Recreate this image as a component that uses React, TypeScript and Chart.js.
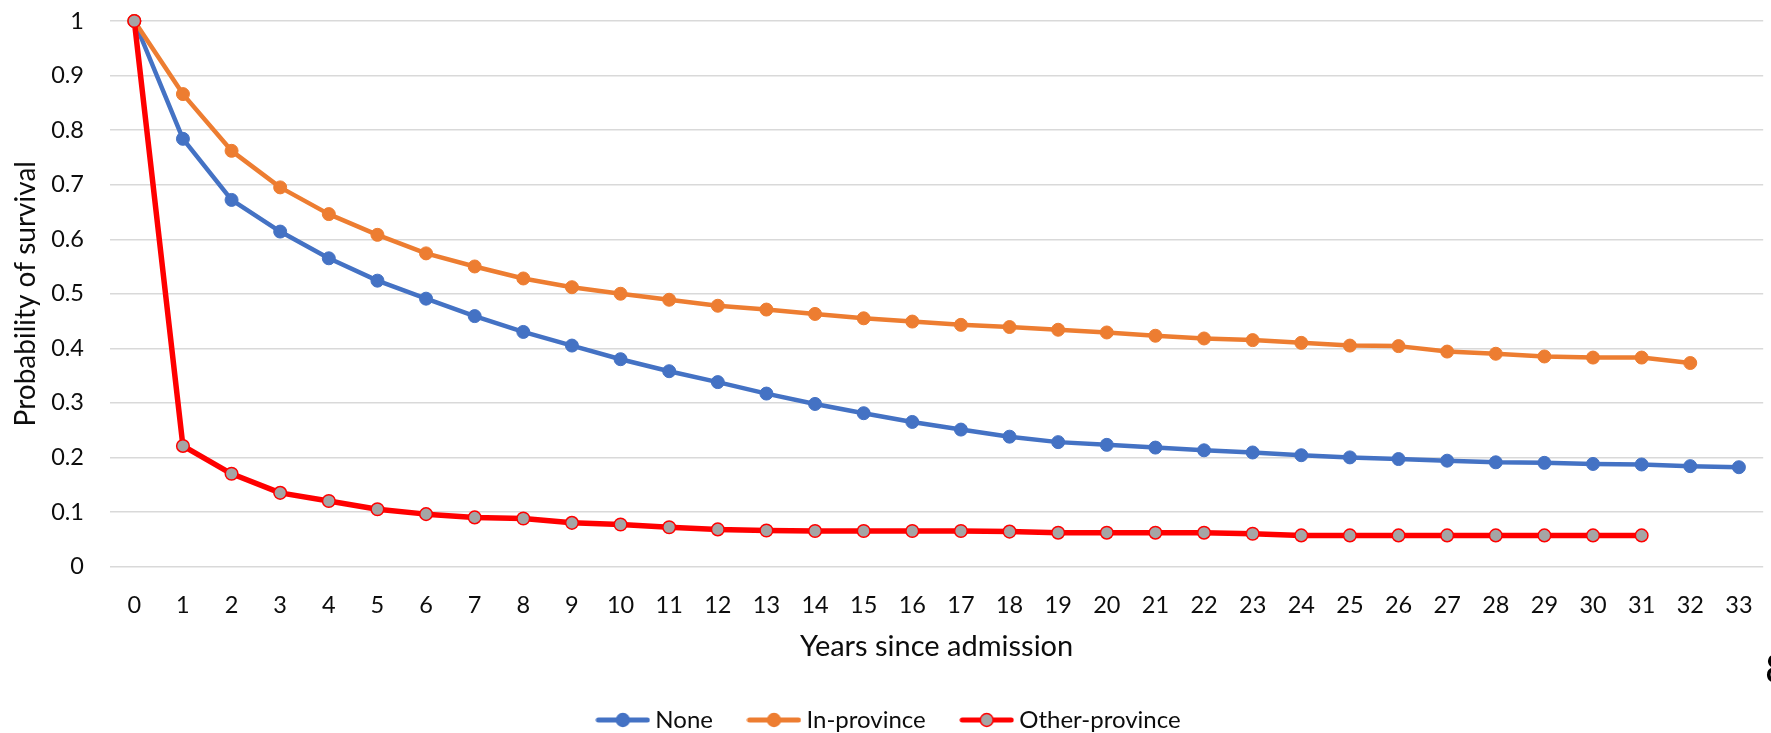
import { useEffect, useRef } from "react";
import { Chart, registerables } from "chart.js";

Chart.register(...registerables);

// Years since admission (category axis)
const years = [
  "0", "1", "2", "3", "4", "5", "6", "7", "8", "9", "10", "11", "12", "13", "14", "15", "16",
  "17", "18", "19", "20", "21", "22", "23", "24", "25", "26", "27", "28", "29", "30", "31", "32", "33",
];

// Probability of survival by transfer group
const noneSurvival = [
  1.0, 0.784, 0.672, 0.614, 0.565, 0.524, 0.491, 0.459, 0.43, 0.405, 0.38, 0.358, 0.338, 0.317,
  0.298, 0.281, 0.265, 0.251, 0.238, 0.228, 0.223, 0.218, 0.213, 0.209, 0.204, 0.2, 0.197, 0.194,
  0.191, 0.19, 0.188, 0.187, 0.184, 0.182,
];
const inProvinceSurvival = [
  1.0, 0.866, 0.762, 0.695, 0.646, 0.608, 0.574, 0.55, 0.528, 0.512, 0.5, 0.489, 0.478, 0.471,
  0.463, 0.455, 0.449, 0.443, 0.439, 0.434, 0.429, 0.423, 0.418, 0.415, 0.41, 0.405, 0.404, 0.394,
  0.39, 0.385, 0.383, 0.383, 0.373,
];
const otherProvinceSurvival = [
  1.0, 0.221, 0.17, 0.135, 0.12, 0.105, 0.096, 0.09, 0.088, 0.08, 0.077, 0.072, 0.068, 0.066,
  0.065, 0.065, 0.065, 0.065, 0.064, 0.062, 0.062, 0.062, 0.062, 0.06, 0.057, 0.057, 0.057, 0.057,
  0.057, 0.057, 0.057, 0.057,
];

const yTickValues = [0, 0.1, 0.2, 0.3, 0.4, 0.5, 0.6, 0.7, 0.8, 0.9, 1];
const seriesNames = ["None", "In-province", "Other-province"];

const FONT = "Lato, 'Noto Sans', sans-serif";
const TEXT = "#0d0d0d";
const GRID = "#d9d9d9";
const BLUE = "#4472c4";
const ORANGE = "#ed7d31";
const RED = "#ff0000";
const GRAY = "#a5a5a5";

// Line-with-marker swatch used for the legend entries
function legendMarker(lineColor: string, fill: string, stroke: string, lineWidth: number) {
  const c = document.createElement("canvas");
  c.width = 55;
  c.height = 16;
  const ctx = c.getContext("2d")!;
  ctx.strokeStyle = lineColor;
  ctx.lineWidth = lineWidth;
  ctx.lineCap = "round";
  ctx.beginPath();
  ctx.moveTo(3, 8);
  ctx.lineTo(52, 8);
  ctx.stroke();
  ctx.beginPath();
  ctx.arc(27.5, 8, 6.4, 0, Math.PI * 2);
  ctx.fillStyle = fill;
  ctx.fill();
  ctx.lineWidth = 1.5;
  ctx.strokeStyle = stroke;
  ctx.stroke();
  return c;
}

export default function App() {
  const canvasRef = useRef<HTMLCanvasElement | null>(null);

  useEffect(() => {
    if (!canvasRef.current) return;
    const markers = [
      legendMarker(BLUE, BLUE, BLUE, 5),
      legendMarker(ORANGE, ORANGE, ORANGE, 5),
      legendMarker(RED, GRAY, RED, 5),
    ];

    const chart = new Chart(canvasRef.current, {
      type: "line",
      data: {
        labels: years,
        datasets: [
          {
            label: seriesNames[0],
            data: noneSurvival,
            borderColor: BLUE,
            backgroundColor: BLUE,
            borderWidth: 4.5,
            pointRadius: 6.5,
            pointBackgroundColor: BLUE,
            pointBorderColor: BLUE,
            pointBorderWidth: 1,
            borderJoinStyle: "round",
            borderCapStyle: "round",
            order: 3,
            clip: false,
          },
          {
            label: seriesNames[1],
            data: inProvinceSurvival,
            borderColor: ORANGE,
            backgroundColor: ORANGE,
            borderWidth: 4.5,
            pointRadius: 6.5,
            pointBackgroundColor: ORANGE,
            pointBorderColor: ORANGE,
            pointBorderWidth: 1,
            borderJoinStyle: "round",
            borderCapStyle: "round",
            order: 2,
            clip: false,
          },
          {
            label: seriesNames[2],
            data: otherProvinceSurvival,
            borderColor: RED,
            backgroundColor: GRAY,
            borderWidth: 5.5,
            pointRadius: 6.3,
            pointBackgroundColor: GRAY,
            pointBorderColor: RED,
            pointBorderWidth: 1.5,
            borderJoinStyle: "round",
            borderCapStyle: "round",
            order: 1,
            clip: false,
          },
        ],
      },
      options: {
        animation: false,
        responsive: true,
        maintainAspectRatio: false,
        layout: { padding: { top: 21, right: 2, left: 14, bottom: 0 } },
        plugins: {
          tooltip: { enabled: false },
          legend: {
            position: "bottom",
            maxHeight: 65.5,
            labels: {
              usePointStyle: true,
              pointStyleWidth: 41,
              padding: 40.5,
              color: TEXT,
              font: { family: FONT, size: 24 },
              generateLabels: (c: any) =>
                c.data.datasets.map((ds: any, i: number) => ({
                  text: ds.label,
                  datasetIndex: i,
                  hidden: false,
                  pointStyle: markers[i],
                  fillStyle: ds.backgroundColor,
                  strokeStyle: ds.borderColor,
                  lineWidth: 0,
                  fontColor: TEXT,
                })),
            },
          },
        },
        scales: {
          x: {
            offset: true,
            grid: { display: false },
            border: { display: false },
            ticks: {
              padding: 17,
              color: TEXT,
              maxRotation: 0,
              autoSkip: false,
              font: { family: FONT, size: 23.5 },
            },
            title: {
              display: true,
              text: "Years since admission",
              color: TEXT,
              padding: { top: 0, bottom: 4.5 },
              font: { family: FONT, size: 29, lineHeight: 1.1 },
            },
            afterFit: (s: any) => {
              s.height = 101;
              s.paddingLeft = 0;
              s.paddingRight = 0;
            },
          },
          y: {
            min: 0,
            max: 1,
            grid: { color: GRID, lineWidth: 1.4, drawTicks: false },
            border: { display: false },
            afterBuildTicks: (s: any) => {
              s.ticks = yTickValues.map((v) => ({ value: v }));
            },
            ticks: {
              padding: 26,
              color: TEXT,
              font: { family: FONT, size: 23.5 },
              callback: (v: any) => String(Number(Number(v).toFixed(1))),
            },
            title: {
              display: true,
              text: "Probability of survival",
              color: TEXT,
              padding: { top: 0.5, bottom: 0 },
              font: { family: FONT, size: 28, lineHeight: 0.8 },
            },
            afterFit: (s: any) => {
              s.width = 96;
              s.paddingTop = 0;
              s.paddingBottom = 0;
            },
          },
        },
      },
    });

    return () => chart.destroy();
  }, []);

  return (
    <div
      style={{
        position: "fixed",
        left: 0,
        top: 0,
        width: 1771,
        height: 733,
        overflow: "hidden",
        background: "#ffffff",
      }}
    >
      <canvas ref={canvasRef} />
      <span
        style={{
          position: "absolute",
          left: 1765,
          top: 648,
          fontFamily: FONT,
          fontSize: 40,
          lineHeight: "40px",
          color: "#000",
        }}
      >
        8
      </span>
    </div>
  );
}
